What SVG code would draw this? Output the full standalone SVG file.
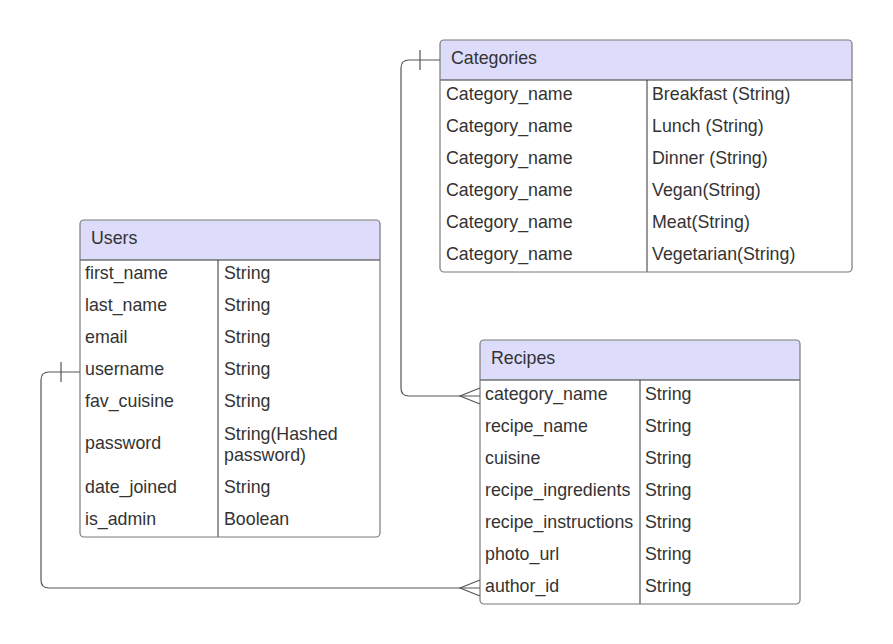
<svg xmlns="http://www.w3.org/2000/svg" width="893" height="644" viewBox="0 0 893 644">
<style>
.hdr{fill:#dedcfb}
.box{fill:none;stroke:#7a7a7a;stroke-width:1.2}
.div{stroke:#333;stroke-width:1}
.t{font-family:"Liberation Sans",Arial,sans-serif;font-size:17.8px;fill:#333}
.c{fill:none;stroke:#555;stroke-width:1.2}
</style>
<rect width="893" height="644" fill="#fff"/>
<g id="categories">
<path class="hdr" d="M444,40 H848 Q852,40 852,44 V80 H440 V44 Q440,40 444,40 Z"/>
<line class="div" x1="440" y1="80" x2="852" y2="80"/>
<line class="div" x1="647" y1="80" x2="647" y2="272"/>
<rect class="box" x="440" y="40" width="412" height="232" rx="4"/>
<text class="t" x="451" y="64">Categories</text>
<text class="t" x="446" y="100">Category_name</text><text class="t" x="652" y="100">Breakfast (String)</text>
<text class="t" x="446" y="132">Category_name</text><text class="t" x="652" y="132">Lunch (String)</text>
<text class="t" x="446" y="164">Category_name</text><text class="t" x="652" y="164">Dinner (String)</text>
<text class="t" x="446" y="196">Category_name</text><text class="t" x="652" y="196">Vegan(String)</text>
<text class="t" x="446" y="228">Category_name</text><text class="t" x="652" y="228">Meat(String)</text>
<text class="t" x="446" y="260">Category_name</text><text class="t" x="652" y="260">Vegetarian(String)</text>
</g>
<g id="users">
<path class="hdr" d="M84,220 H376 Q380,220 380,224 V260 H80 V224 Q80,220 84,220 Z"/>
<line class="div" x1="80" y1="260" x2="380" y2="260"/>
<line class="div" x1="218" y1="260" x2="218" y2="537"/>
<rect class="box" x="80" y="220" width="300" height="317" rx="4"/>
<text class="t" x="91" y="244">Users</text>
<text class="t" x="85" y="279">first_name</text><text class="t" x="224" y="279">String</text>
<text class="t" x="85" y="311">last_name</text><text class="t" x="224" y="311">String</text>
<text class="t" x="85" y="343">email</text><text class="t" x="224" y="343">String</text>
<text class="t" x="85" y="375">username</text><text class="t" x="224" y="375">String</text>
<text class="t" x="85" y="407">fav_cuisine</text><text class="t" x="224" y="407">String</text>
<text class="t" x="85" y="449">password</text><text class="t" x="224" y="440">String(Hashed</text><text class="t" x="224" y="461">password)</text>
<text class="t" x="85" y="493">date_joined</text><text class="t" x="224" y="493">String</text>
<text class="t" x="85" y="525">is_admin</text><text class="t" x="224" y="525">Boolean</text>
</g>
<g id="recipes">
<path class="hdr" d="M484,340 H796 Q800,340 800,344 V380 H480 V344 Q480,340 484,340 Z"/>
<line class="div" x1="480" y1="380" x2="800" y2="380"/>
<line class="div" x1="640" y1="380" x2="640" y2="604"/>
<rect class="box" x="480" y="340" width="320" height="264" rx="4"/>
<text class="t" x="491" y="364">Recipes</text>
<text class="t" x="485" y="400">category_name</text><text class="t" x="645" y="400">String</text>
<text class="t" x="485" y="432">recipe_name</text><text class="t" x="645" y="432">String</text>
<text class="t" x="485" y="464">cuisine</text><text class="t" x="645" y="464">String</text>
<text class="t" x="485" y="496">recipe_ingredients</text><text class="t" x="645" y="496">String</text>
<text class="t" x="485" y="528">recipe_instructions</text><text class="t" x="645" y="528">String</text>
<text class="t" x="485" y="560">photo_url</text><text class="t" x="645" y="560">String</text>
<text class="t" x="485" y="592">author_id</text><text class="t" x="645" y="592">String</text>
</g>
<g id="connectors">
<path class="c" d="M440,60 H409 Q401,60 401,68 V388 Q401,396 409,396 H480"/>
<path class="c" d="M420,50 V70"/>
<path class="c" d="M480,388 L460,396 L480,404"/>
<path class="c" d="M80,372 H49 Q41,372 41,380 V580 Q41,588 49,588 H480"/>
<path class="c" d="M61,362 V382"/>
<path class="c" d="M480,580 L460,588 L480,596"/>
</g>
</svg>
